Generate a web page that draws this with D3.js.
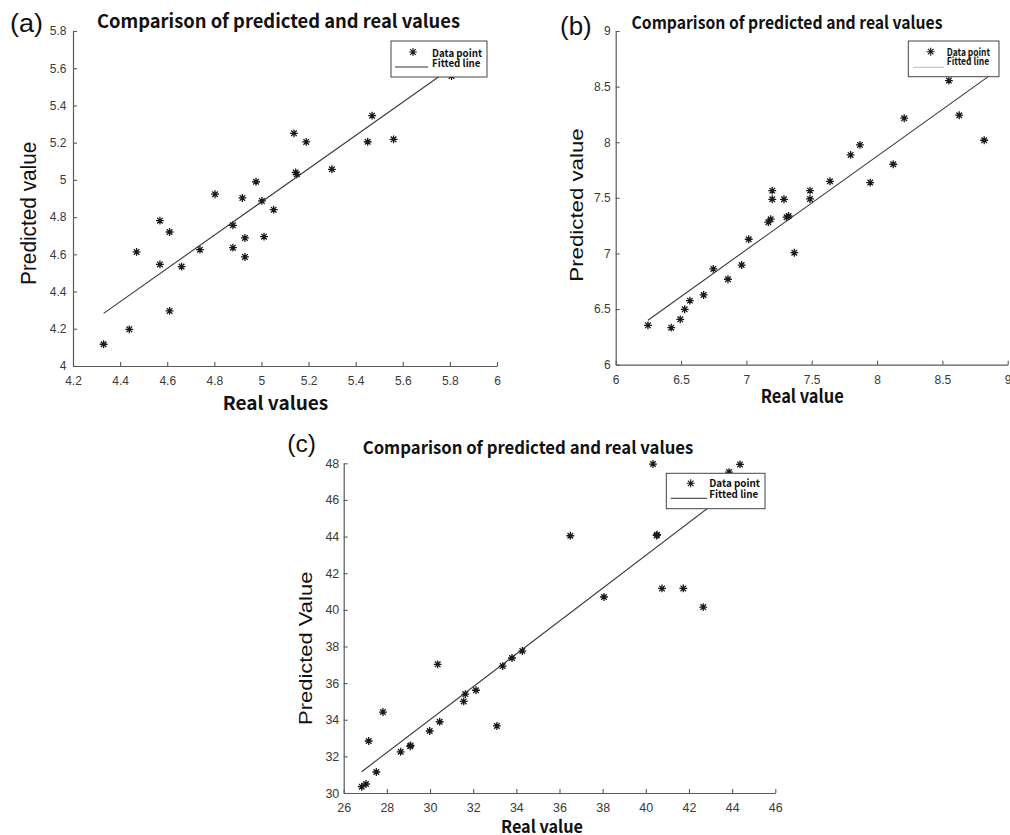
<!DOCTYPE html>
<html><head><meta charset="utf-8">
<script src="https://cdn.jsdelivr.net/npm/d3@7"></script>
<style>body{margin:0;background:#fff}svg{display:block}</style>
</head><body>
<script>
// ---------------- data ----------------
const aReal = [4.330, 4.439, 4.470, 4.569, 4.569, 4.610, 4.610, 4.661, 4.739, 4.803, 4.879, 4.879, 4.919, 4.930, 4.930, 4.977, 5.002, 5.011, 5.052, 5.138, 5.145, 5.150, 5.190, 5.299, 5.451, 5.470, 5.561, 5.807];
const aPred = [4.117, 4.197, 4.613, 4.781, 4.546, 4.720, 4.296, 4.534, 4.625, 4.923, 4.756, 4.636, 4.903, 4.688, 4.586, 4.990, 4.887, 4.695, 4.840, 5.250, 5.040, 5.030, 5.204, 5.057, 5.205, 5.345, 5.218, 5.558];
const aFitX = [4.33, 5.81];
const aFitY = [4.283, 5.605];
const aXTicks = [4.2, 4.4, 4.6, 4.8, 5, 5.2, 5.4, 5.6, 5.8, 6];
const aYTicks = [4, 4.2, 4.4, 4.6, 4.8, 5, 5.2, 5.4, 5.6, 5.8];

const bReal = [6.247, 6.425, 6.494, 6.528, 6.568, 6.673, 6.747, 6.859, 6.964, 7.018, 7.168, 7.186, 7.198, 7.198, 7.288, 7.308, 7.323, 7.367, 7.487, 7.487, 7.640, 7.798, 7.869, 7.948, 8.124, 8.208, 8.550, 8.629, 8.820];
const bPred = [6.354, 6.333, 6.408, 6.498, 6.576, 6.627, 6.861, 6.768, 6.896, 7.128, 7.281, 7.308, 7.565, 7.487, 7.487, 7.326, 7.337, 7.007, 7.565, 7.490, 7.649, 7.886, 7.976, 7.637, 7.802, 8.216, 8.554, 8.243, 8.018];
const bFitX = [6.247, 8.851];
const bFitY = [6.40, 8.59];
const bXTicks = [6, 6.5, 7, 7.5, 8, 8.5, 9];
const bYTicks = [6, 6.5, 7, 7.5, 8, 8.5, 9];

const cReal = [26.834, 27.033, 27.158, 27.512, 27.82, 28.64, 29.08, 29.10, 29.985, 30.356, 30.448, 31.56, 31.635, 32.13, 33.10, 33.368, 33.80, 34.277, 36.50, 38.06, 40.333, 40.50, 40.52, 40.75, 41.737, 42.66, 43.855, 44.365];
const cPred = [30.344, 30.49, 32.84, 31.146, 34.42, 32.25, 32.55, 32.60, 33.384, 37.025, 33.89, 35.0, 35.40, 35.61, 33.66, 36.93, 37.37, 37.75, 44.045, 40.70, 47.96, 44.06, 44.10, 41.17, 41.17, 40.15, 47.52, 47.94];
const cFitX = [26.834, 44.365];
const cFitY = [31.163, 46.89];
const cXTicks = [26, 28, 30, 32, 34, 36, 38, 40, 42, 44, 46];
const cYTicks = [30, 32, 34, 36, 38, 40, 42, 44, 46, 48];

const titleText = "Comparison of predicted and real values";
const legendLabels = ["Data point", "Fitted line"];

// ---------------- drawing ----------------
const svg = d3.select("body").append("svg").attr("width", 1010).attr("height", 835);
svg.append("rect").attr("width", 1010).attr("height", 835).attr("fill", "#fff");

const SANS = "'Liberation Sans', Arial, sans-serif";
const CJK = "'Noto Sans CJK SC', 'Noto Sans', sans-serif";

// 8-armed MATLAB-like asterisk
const asterisk = {
  draw(ctx, size) {
    const r = Math.sqrt(size) / 2, d = r * Math.SQRT1_2;
    ctx.moveTo(-r, 0); ctx.lineTo(r, 0);
    ctx.moveTo(0, -r); ctx.lineTo(0, r);
    ctx.moveTo(-d, -d); ctx.lineTo(d, d);
    ctx.moveTo(-d, d); ctx.lineTo(d, -d);
  }
};
const sym = d3.symbol().type(asterisk).size(62);

function txt(x, y, s, o) {
  const t = svg.append("text").attr("x", x).attr("y", y).text(s)
    .attr("font-family", o.family || SANS).attr("font-size", o.size)
    .attr("font-weight", o.weight || "normal").attr("fill", o.fill || "#111")
    .attr("text-anchor", o.anchor || "start");
  if (o.len) t.attr("textLength", o.len).attr("lengthAdjust", "spacingAndGlyphs");
  if (o.rot) t.attr("transform", `rotate(-90 ${x} ${y})`);
  return t;
}

function panel(p) {
  const x = d3.scaleLinear().domain(p.xd).range(p.xr);
  const y = d3.scaleLinear().domain(p.yd).range(p.yr);
  const fmt = d3.format("");
  const g = svg.append("g");

  const gx = g.append("g").attr("transform", `translate(0,${p.yr[0]})`)
    .call(d3.axisBottom(x).tickValues(p.xt).tickFormat(fmt).tickSizeInner(-4).tickSizeOuter(0).tickPadding(p.xpad));
  const gy = g.append("g").attr("transform", `translate(${p.xr[0]},0)`)
    .call(d3.axisLeft(y).tickValues(p.yt).tickFormat(fmt).tickSizeInner(-4).tickSizeOuter(0).tickPadding(p.ypad));
  [gx, gy].forEach(a => {
    a.select(".domain").attr("stroke", "#5a5a5a").attr("stroke-width", 1.2);
    a.selectAll(".tick line").attr("stroke", "#5a5a5a").attr("stroke-width", 1.1);
    a.selectAll(".tick text").attr("font-family", SANS).attr("font-size", p.tickSize).attr("fill", "#3a3a3a");
  });

  // fitted line
  const fit = p.fitX.map((v, i) => [v, p.fitY[i]]);
  g.append("path").datum(fit)
    .attr("d", d3.line().x(d => x(d[0])).y(d => y(d[1])))
    .attr("fill", "none").attr("stroke", "#3a3a3a").attr("stroke-width", 1.1);

  // data points
  g.selectAll(".pt").data(p.real.map((v, i) => [v, p.pred[i]])).join("path")
    .attr("class", "pt")
    .attr("transform", d => `translate(${x(d[0])},${y(d[1])})`)
    .attr("d", sym).attr("fill", "none").attr("stroke", "#1a1a1a").attr("stroke-width", 1.3);

  // legend
  const L = p.leg;
  g.append("rect").attr("x", L.x).attr("y", L.y).attr("width", L.w).attr("height", L.h)
    .attr("fill", "#fff").attr("stroke", "#444").attr("stroke-width", 1);
  g.append("path").attr("transform", `translate(${L.mx},${L.my})`).attr("d", sym)
    .attr("fill", "none").attr("stroke", "#1a1a1a").attr("stroke-width", 1.1);
  g.append("line").attr("x1", L.l1).attr("x2", L.l2).attr("y1", L.ly).attr("y2", L.ly)
    .attr("stroke", L.lc).attr("stroke-width", 1);
  txt(L.tx, L.t1, legendLabels[0], {family: CJK, size: 10.5, weight: "bold", len: L.len1});
  txt(L.tx, L.t2, legendLabels[1], {family: CJK, size: 10.5, weight: "bold", len: L.len2});

  // texts
  txt(p.title.x, p.title.y, titleText, {family: CJK, size: p.title.size, weight: "bold", anchor: "middle", len: p.title.len});
  txt(p.xlab.x, p.xlab.y, p.xlab.s, {family: CJK, size: p.xlab.size, weight: "bold", anchor: "middle", len: p.xlab.len});
  txt(p.ylab.x, p.ylab.y, p.ylab.s, {size: p.ylab.size, anchor: "middle", len: p.ylab.len, rot: true});
  txt(p.tag.x, p.tag.y, p.tag.s, {size: p.tag.size, len: p.tag.len});
}

panel({
  real: aReal, pred: aPred, fitX: aFitX, fitY: aFitY, xt: aXTicks, yt: aYTicks,
  xd: [4.2, 6], xr: [73, 497], yd: [4, 5.8], yr: [366, 31],
  xpad: 10, ypad: 6.5, tickSize: 12,
  leg: {x: 391, y: 41, w: 96, h: 36, mx: 413, my: 52, l1: 395, l2: 428, ly: 67, lc: "#333",
        tx: 432, t1: 56.5, t2: 66.5, len1: 50, len2: 48.5},
  title: {x: 278.5, y: 28.3, size: 18.5, len: 363},
  xlab: {x: 275.5, y: 410, s: "Real values", size: 18.5, len: 105.6},
  ylab: {x: 36.5, y: 213.3, s: "Predicted value", size: 21.5, len: 143.3},
  tag: {x: 10, y: 32, s: "(a)", size: 25, len: 33}
});

panel({
  real: bReal, pred: bPred, fitX: bFitX, fitY: bFitY, xt: bXTicks, yt: bYTicks,
  xd: [6, 9], xr: [615.7, 1007.7], yd: [6, 9], yr: [364.7, 31],
  xpad: 11, ypad: 5, tickSize: 12,
  leg: {x: 908.3, y: 41, w: 90.7, h: 35.7, mx: 930.7, my: 51.7, l1: 913, l2: 944, ly: 67.3, lc: "#bbb",
        tx: 946.7, t1: 55.7, t2: 65, len1: 43.3, len2: 42.5},
  title: {x: 787, y: 29.3, size: 17.5, len: 311},
  xlab: {x: 802.3, y: 403.3, s: "Real value", size: 18.5, len: 83},
  ylab: {x: 583.3, y: 205, s: "Predicted value", size: 19, len: 153.3},
  tag: {x: 560, y: 34.7, s: "(b)", size: 25, len: 31.7}
});

panel({
  real: cReal, pred: cPred, fitX: cFitX, fitY: cFitY, xt: cXTicks, yt: cYTicks,
  xd: [26, 46], xr: [343.7, 775.3], yd: [30, 48], yr: [793, 463.3],
  xpad: 10, ypad: 4.4, tickSize: 12.5,
  leg: {x: 666.3, y: 473.3, w: 98.7, h: 35.4, mx: 690.7, my: 483.3, l1: 670.7, l2: 707.3, ly: 498.3, lc: "#333",
        tx: 709.3, t1: 487.3, t2: 497.7, len1: 50.7, len2: 49},
  title: {x: 528, y: 454, size: 17.3, len: 330.6},
  xlab: {x: 542, y: 832.5, s: "Real value", size: 17.7, len: 82},
  ylab: {x: 312.3, y: 648.3, s: "Predicted Value", size: 18, len: 153.3},
  tag: {x: 287.3, y: 452, s: "(c)", size: 23, len: 28.7}
});
</script>
</body></html>
